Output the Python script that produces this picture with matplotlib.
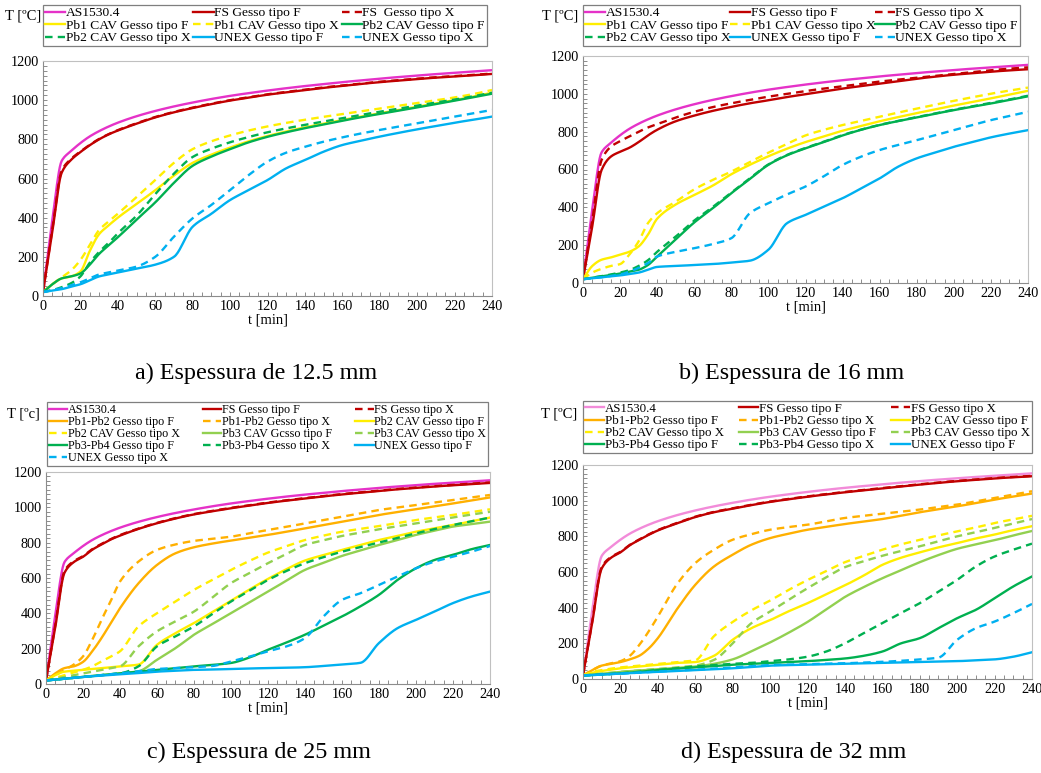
import numpy as np
import matplotlib
matplotlib.use('Agg')
import matplotlib.pyplot as plt
from matplotlib.ticker import MultipleLocator

plt.rcParams['font.family'] = ['Liberation Serif', 'DejaVu Serif']

# time grid [min] shared by every series
t_min = [0, 5, 10, 15, 20, 25, 30, 35, 40, 50, 60, 70, 80, 90, 100, 110, 120,
         130, 140, 150, 160, 170, 180, 190, 200, 210, 220, 230, 240]

# standard fire curve (same in all panels)
as1530 = [20, 390, 690, 740, 781, 815, 842, 865, 885, 918, 945, 968, 988, 1006, 1022, 1036, 1049,
          1061, 1072, 1082, 1092, 1101, 1110, 1118, 1126, 1133, 1140, 1147, 1153]

# a) 12.5 mm
a_fs_f = [20, 330, 630, 695, 735, 770, 800, 825, 845, 880, 912, 938, 960, 980, 998, 1013, 1028,
          1040, 1052, 1063, 1073, 1083, 1092, 1100, 1108, 1115, 1121, 1127, 1134]
a_fs_x = [20, 340, 640, 700, 738, 772, 802, 826, 847, 882, 914, 940, 962, 982, 1000, 1015, 1030,
          1042, 1054, 1065, 1075, 1085, 1094, 1102, 1110, 1117, 1123, 1129, 1136]
a_pb1_f = [20, 60, 90, 100, 125, 230, 316, 360, 400, 470, 540, 615, 680, 722, 758, 790, 817,
           840, 861, 880, 899, 916, 933, 950, 966, 983, 1000, 1018, 1038]
a_pb1_x = [20, 60, 95, 130, 184, 260, 337, 380, 420, 505, 592, 680, 750, 790, 820, 845, 866,
           884, 900, 915, 929, 943, 957, 971, 985, 999, 1014, 1031, 1052]
a_pb2_f = [20, 60, 90, 100, 115, 160, 215, 258, 300, 390, 478, 578, 665, 712, 750, 785, 813,
           836, 857, 876, 895, 913, 930, 947, 963, 980, 997, 1015, 1033]
a_pb2_x = [20, 30, 45, 65, 100, 170, 225, 270, 320, 410, 520, 625, 710, 752, 785, 812, 836,
           856, 874, 891, 908, 925, 941, 957, 972, 988, 1003, 1020, 1038]
a_unex_f = [20, 28, 35, 48, 60, 80, 100, 110, 120, 140, 160, 200, 354, 420, 490, 541, 592,
            652, 694, 737, 771, 793, 814, 833, 851, 868, 885, 900, 916]
a_unex_x = [20, 30, 40, 55, 70, 90, 110, 120, 130, 150, 200, 303, 397, 465, 541, 618, 686,
            732, 762, 788, 810, 830, 848, 865, 882, 899, 916, 933, 950]

# b) 16 mm
b_fs_f = [20, 300, 597, 668, 694, 715, 745, 780, 810, 855, 885, 910, 931, 950, 966, 983, 998,
          1013, 1028, 1041, 1054, 1067, 1080, 1091, 1101, 1109, 1117, 1124, 1130]
b_fs_x = [20, 330, 650, 720, 750, 775, 800, 822, 840, 875, 905, 930, 950, 968, 985, 1000, 1015,
          1028, 1040, 1052, 1065, 1075, 1085, 1095, 1105, 1115, 1125, 1133, 1140]
b_pb1_f = [20, 90, 123, 135, 150, 165, 193, 255, 340, 415, 465, 515, 575, 625, 670, 710, 745,
           775, 805, 830, 855, 877, 898, 918, 938, 957, 976, 996, 1016]
b_pb1_x = [20, 55, 75, 90, 100, 150, 220, 316, 369, 430, 495, 545, 589, 640, 689, 735, 780,
           810, 835, 857, 879, 901, 922, 943, 963, 982, 1001, 1017, 1033]
b_pb2_f = [20, 28, 35, 42, 50, 60, 70, 95, 140, 230, 320, 395, 475, 550, 625, 675, 712,
           745, 780, 810, 835, 856, 875, 895, 914, 932, 949, 968, 987]
b_pb2_x = [20, 28, 36, 45, 55, 68, 90, 120, 165, 245, 330, 402, 478, 553, 627, 677, 714,
           747, 782, 811, 836, 857, 877, 897, 916, 934, 952, 970, 990]
b_unex_f = [20, 25, 30, 35, 40, 48, 55, 70, 85, 90, 95, 100, 108, 118, 176, 316, 360,
            404, 448, 500, 553, 615, 659, 690, 720, 745, 770, 790, 808]
b_unex_x = [20, 25, 30, 38, 45, 60, 80, 105, 140, 165, 184, 206, 237, 369, 422, 468, 510,
            565, 624, 668, 703, 730, 755, 782, 808, 835, 861, 883, 905]

# c) 25 mm
c_fs_f = [20, 320, 630, 690, 720, 760, 790, 818, 840, 878, 910, 937, 960, 978, 995, 1010, 1025,
          1038, 1050, 1062, 1073, 1083, 1093, 1102, 1110, 1118, 1125, 1132, 1138]
c_fs_x = [20, 330, 640, 695, 724, 763, 793, 820, 843, 880, 912, 939, 962, 980, 997, 1012, 1027,
          1040, 1052, 1064, 1075, 1085, 1095, 1104, 1112, 1120, 1127, 1134, 1141]
c_pb12_f = [20, 60, 90, 100, 125, 185, 260, 345, 429, 570, 674, 740, 774, 795, 812, 828, 844,
            862, 881, 900, 919, 938, 957, 973, 989, 1005, 1022, 1039, 1056]
c_pb12_x = [20, 50, 80, 110, 156, 250, 363, 470, 580, 693, 759, 790, 810, 822, 834, 853, 872,
            890, 909, 928, 947, 966, 985, 999, 1013, 1027, 1041, 1056, 1070]
c_pb2cav_f = [20, 50, 70, 75, 80, 85, 90, 95, 100, 110, 222, 288, 345, 408, 471, 535, 595,
              650, 699, 730, 759, 787, 815, 838, 862, 881, 900, 921, 942]
c_pb2cav_x = [20, 35, 50, 65, 80, 100, 128, 155, 185, 326, 401, 467, 533, 590, 646, 697, 744,
              780, 815, 840, 862, 878, 894, 911, 928, 943, 957, 973, 989]
c_pb3cav_f = [20, 25, 30, 35, 40, 45, 50, 55, 60, 72, 137, 203, 279, 340, 401, 462, 523,
              585, 646, 686, 725, 756, 787, 815, 844, 868, 891, 905, 919]
c_pb3cav_x = [20, 30, 40, 50, 60, 70, 80, 90, 100, 213, 298, 355, 410, 490, 571, 628, 684,
              736, 787, 813, 838, 857, 876, 893, 909, 926, 943, 959, 975]
c_pb34_f = [20, 25, 30, 35, 40, 45, 50, 55, 60, 70, 80, 90, 100, 108, 119, 150, 194,
            235, 279, 330, 382, 440, 505, 589, 655, 702, 731, 763, 787]
c_pb34_x = [20, 25, 30, 35, 40, 45, 50, 55, 60, 100, 213, 270, 326, 397, 467, 528, 589,
            640, 684, 718, 749, 775, 800, 827, 853, 877, 900, 921, 942]
c_unex_f = [20, 25, 30, 35, 40, 44, 48, 52, 55, 62, 70, 75, 80, 82, 85, 88, 90,
            92, 95, 102, 110, 120, 232, 316, 363, 410, 458, 495, 523]
c_unex_x = [20, 25, 30, 35, 40, 45, 50, 55, 60, 72, 85, 90, 95, 102, 128, 155, 185,
            213, 260, 382, 476, 514, 561, 608, 655, 693, 721, 749, 781]

# d) 32 mm
d_fs_f = [20, 320, 620, 680, 710, 750, 780, 808, 833, 872, 908, 935, 955, 975, 993, 1008, 1022,
          1035, 1047, 1058, 1069, 1080, 1090, 1100, 1109, 1117, 1125, 1131, 1137]
d_fs_x = [20, 325, 628, 684, 713, 752, 782, 810, 835, 874, 910, 937, 957, 977, 995, 1010, 1024,
          1037, 1049, 1060, 1071, 1082, 1092, 1102, 1111, 1119, 1127, 1133, 1139]
d_pb12_f = [20, 50, 75, 85, 95, 110, 130, 170, 229, 388, 528, 631, 697, 753, 790, 815, 837,
            853, 869, 883, 897, 916, 935, 952, 968, 987, 1006, 1023, 1040]
d_pb12_x = [20, 50, 75, 88, 100, 130, 190, 265, 350, 528, 650, 725, 781, 812, 837, 852, 865,
            884, 903, 915, 927, 938, 950, 964, 978, 996, 1015, 1034, 1053]
d_pb2cav_f = [20, 35, 45, 52, 60, 65, 70, 75, 80, 90, 95, 130, 220, 285, 330, 380, 425,
              475, 525, 580, 640, 680, 710, 738, 762, 788, 810, 835, 857]
d_pb2cav_x = [20, 40, 50, 58, 65, 70, 75, 80, 85, 95, 105, 240, 320, 385, 440, 500, 555,
              605, 655, 690, 725, 755, 780, 805, 828, 850, 875, 895, 915]
d_pb3cav_f = [20, 25, 30, 35, 40, 44, 48, 52, 55, 62, 70, 85, 110, 155, 205, 260, 320,
              390, 460, 515, 565, 610, 655, 695, 730, 755, 778, 805, 830]
d_pb3cav_x = [20, 25, 30, 35, 40, 44, 48, 52, 55, 65, 75, 107, 200, 313, 378, 445, 509,
              570, 627, 660, 691, 718, 744, 772, 800, 823, 847, 872, 897]
d_pb34_f = [20, 22, 25, 28, 32, 35, 40, 45, 50, 58, 65, 72, 80, 85, 90, 95, 100,
            107, 115, 130, 154, 200, 229, 285, 341, 388, 453, 519, 575]
d_pb34_x = [20, 22, 25, 28, 32, 36, 40, 45, 50, 60, 70, 78, 85, 90, 100, 110, 125,
            154, 200, 257, 313, 370, 425, 490, 556, 631, 687, 725, 759]
d_unex_f = [20, 22, 25, 28, 30, 33, 35, 38, 40, 45, 50, 55, 60, 68, 75, 78, 80,
            83, 85, 88, 90, 93, 95, 98, 100, 105, 110, 125, 150]
d_unex_x = [20, 22, 25, 28, 30, 33, 36, 39, 42, 47, 52, 58, 65, 72, 78, 80, 83,
            85, 88, 92, 96, 102, 110, 120, 220, 285, 322, 369, 421]

MAGENTA = '#e532c8'
PINK = '#f28bd9'
RED = '#c00000'
YELLOW = '#ffee00'
GREEN = '#00b050'
LGREEN = '#92d050'
ORANGE = '#ffb000'
CYAN = '#00b0f0'

W, H = 1041, 773
fig = plt.figure(figsize=(W / 100, H / 100), dpi=100)


def px_rect(x0, y0, x1, y1):
    return [x0 / W, 1 - y1 / H, (x1 - x0) / W, (y1 - y0) / H]


def smooth(x, y, n=481):
    # monotone cubic (Fritsch-Carlson) through the read points, for drawing only
    x = np.asarray(x, float)
    y = np.asarray(y, float)
    h = np.diff(x)
    d = np.diff(y) / h
    m = np.zeros_like(y)
    m[0], m[-1] = d[0], d[-1]
    for k in range(1, len(y) - 1):
        if d[k - 1] * d[k] > 0:
            w1 = 2 * h[k] + h[k - 1]
            w2 = h[k] + 2 * h[k - 1]
            m[k] = (w1 + w2) / (w1 / d[k - 1] + w2 / d[k])
    xs = np.linspace(x[0], x[-1], n)
    i = np.clip(np.searchsorted(x, xs) - 1, 0, len(x) - 2)
    s = (xs - x[i]) / h[i]
    ys = ((2 * s**3 - 3 * s**2 + 1) * y[i] + (s**3 - 2 * s**2 + s) * h[i] * m[i]
          + (-2 * s**3 + 3 * s**2) * y[i + 1] + (s**3 - s**2) * h[i] * m[i + 1])
    return xs, ys


def draw_panel(rect, series, leg_box, leg_size, ylab, ylab_xy, caption, cap_xy):
    ax = fig.add_axes(px_rect(*rect))
    handles = []
    for vals, label, color, dashed in series:
        ls = (0, (3.2, 2.2)) if dashed else '-'
        xs, ys = smooth(t_min, vals)
        ln, = ax.plot(xs, ys, color=color, lw=1.7, ls=ls, label=label)
        if label is not None:
            handles.append(ln)
    ax.set_xlim(0, 240)
    ax.set_ylim(0, 1200)
    ax.set_xticks(range(0, 241, 20))
    ax.set_yticks(range(0, 1201, 200))
    ax.xaxis.set_minor_locator(MultipleLocator(5))
    ax.yaxis.set_minor_locator(MultipleLocator(25))
    ax.tick_params(which='both', direction='in', color='#8c8c8c', length=3,
                   width=0.7, labelsize=10.3, pad=3)
    for side in ['left', 'bottom']:
        ax.spines[side].set_color('#8c8c8c')
    for side in ['top', 'right']:
        ax.spines[side].set_color('#c0c0c0')
    ax.set_xlabel('t [min]', fontsize=10.5, labelpad=0)

    # row-major legend order with 3 columns
    order = sorted(range(len(handles)), key=lambda i: (i % 3, i))
    x0, y0, x1, y1 = leg_box
    leg = ax.legend([handles[i] for i in order],
                    [handles[i].get_label() for i in order],
                    loc='upper left', bbox_to_anchor=px_rect(x0, y0, x1, y1),
                    bbox_transform=fig.transFigure, mode='expand', ncol=3,
                    fontsize=leg_size, borderpad=0.15, labelspacing=0.0,
                    handlelength=1.5, handletextpad=0.05, columnspacing=0.5,
                    borderaxespad=0, fancybox=False, framealpha=1)
    leg.get_frame().set_edgecolor('#7f7f7f')
    leg.get_frame().set_linewidth(0.9)

    fig.text(ylab_xy[0] / W, 1 - ylab_xy[1] / H, ylab, ha='right', va='center', fontsize=10.5)
    fig.text(cap_xy[0] / W, 1 - cap_xy[1] / H, caption, ha='center', va='center', fontsize=17.4)


series_a = [
    (as1530, 'AS1530.4', MAGENTA, False),
    (a_fs_f, 'FS Gesso tipo F', RED, False),
    (a_fs_x, 'FS  Gesso tipo X', RED, True),
    (a_pb1_f, 'Pb1 CAV Gesso tipo F', YELLOW, False),
    (a_pb1_x, 'Pb1 CAV Gesso tipo X', YELLOW, True),
    (a_pb2_f, 'Pb2 CAV Gesso tipo F', GREEN, False),
    (a_pb2_x, 'Pb2 CAV Gesso tipo X', GREEN, True),
    (a_unex_f, 'UNEX Gesso tipo F', CYAN, False),
    (a_unex_x, 'UNEX Gesso tipo X', CYAN, True),
]
series_b = [
    (as1530, 'AS1530.4', MAGENTA, False),
    (b_fs_f, 'FS Gesso tipo F', RED, False),
    (b_fs_x, 'FS Gesso tipo X', RED, True),
    (b_pb1_f, 'Pb1 CAV Gesso tipo F', YELLOW, False),
    (b_pb1_x, 'Pb1 CAV Gesso tipo X', YELLOW, True),
    (b_pb2_f, 'Pb2 CAV Gesso tipo F', GREEN, False),
    (b_pb2_x, 'Pb2 CAV Gesso tipo X', GREEN, True),
    (b_unex_f, 'UNEX Gesso tipo F', CYAN, False),
    (b_unex_x, 'UNEX Gesso tipo X', CYAN, True),
]
series_c = [
    (as1530, 'AS1530.4', MAGENTA, False),
    (c_fs_f, 'FS Gesso tipo F', RED, False),
    (c_fs_x, 'FS Gesso tipo X', RED, True),
    (c_pb12_f, 'Pb1-Pb2 Gesso tipo F', ORANGE, False),
    (c_pb12_x, 'Pb1-Pb2 Gesso tipo X', ORANGE, True),
    (c_pb2cav_f, 'Pb2 CAV Gesso tipo F', YELLOW, False),
    (c_pb2cav_x, 'Pb2 CAV Gesso tipo X', YELLOW, True),
    (c_pb3cav_f, 'Pb3 CAV Gcsso tipo F', LGREEN, False),
    (c_pb3cav_x, 'Pb3 CAV Gesso tipo X', LGREEN, True),
    (c_pb34_f, 'Pb3-Pb4 Gesso tipo F', GREEN, False),
    (c_pb34_x, 'Pb3-Pb4 Gesso tipo X', GREEN, True),
    (c_unex_f, 'UNEX Gesso tipo F', CYAN, False),
    (c_unex_x, 'UNEX Gesso tipo X', CYAN, True),
]
series_d = [
    (as1530, 'AS1530.4', PINK, False),
    (d_fs_f, 'FS Gesso tipo F', RED, False),
    (d_fs_x, 'FS Gesso tipo X', RED, True),
    (d_pb12_f, 'Pb1-Pb2 Gesso tipo F', ORANGE, False),
    (d_pb12_x, 'Pb1-Pb2 Gesso tipo X', ORANGE, True),
    (d_pb2cav_f, 'Pb2 CAV Gesso tipo F', YELLOW, False),
    (d_pb2cav_x, 'Pb2 CAV Gesso tipo X', YELLOW, True),
    (d_pb3cav_f, 'Pb3 CAV Gesso tipo F', LGREEN, False),
    (d_pb3cav_x, 'Pb3 CAV Gesso tipo X', LGREEN, True),
    (d_pb34_f, 'Pb3-Pb4 Gesso tipo F', GREEN, False),
    (d_pb34_x, 'Pb3-Pb4 Gesso tipo X', GREEN, True),
    (d_unex_f, 'UNEX Gesso tipo F', CYAN, False),
    (d_unex_x, None, CYAN, True),
]

draw_panel((43, 61, 492, 296), series_a, (43, 5, 487, 47), 9.7,
           'T [ºC]', (41, 16), 'a) Espessura de 12.5 mm', (256, 373))
draw_panel((583, 56, 1028, 283), series_b, (583, 5, 1020, 47), 9.7,
           'T [ºC]', (578, 16), 'b) Espessura de 16 mm', (792, 373))
draw_panel((46, 472, 490, 684), series_c, (47, 402, 488, 463), 8.7,
           'T [ºc]', (40, 414), 'c) Espessura de 25 mm', (259, 752))
draw_panel((583, 465, 1032, 679), series_d, (583, 401, 1032, 455), 9.3,
           'T [ºC]', (577, 414), 'd) Espessura de 32 mm', (794, 752))

fig.savefig('out.png', dpi=100)
